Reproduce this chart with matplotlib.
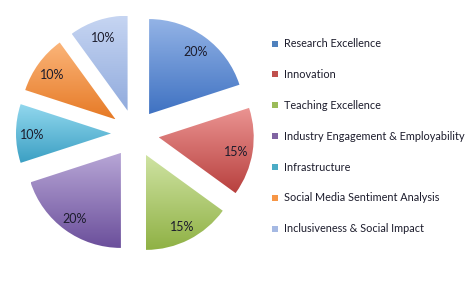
import numpy as np
import matplotlib.pyplot as plt
from matplotlib.colors import LinearSegmentedColormap
from matplotlib.lines import Line2D

plt.rcParams['font.family'] = ['Lato', 'DejaVu Sans']

# data
labels = ['Research Excellence', 'Innovation', 'Teaching Excellence',
          'Industry Engagement & Employability', 'Infrastructure',
          'Social Media Sentiment Analysis', 'Inclusiveness & Social Impact']
shares = [20, 15, 15, 20, 10, 10, 10]

# gradient colours (top light -> bottom dark) per slice
tops = ['#93b3e6', '#eb9593', '#cfe3a3', '#b7a6d6', '#92d8ee', '#fbb57a', '#c6d5f2']
bottoms = ['#3f72c2', '#b8403e', '#8fb144', '#6b4f9b', '#3b9fc3', '#e67a26', '#91abdd']
legend_cols = ['#4f81bd', '#c0504d', '#9bbb59', '#8064a2', '#4bacc6', '#f79646', '#a5b9e3']

fig = plt.figure(figsize=(4.74, 2.89), dpi=100)
ax = fig.add_axes([0, 0, 1, 1])

# explode is in data units here (radius 95 px)
wedges, texts, autotexts = ax.pie(
    shares, startangle=90, counterclock=False, radius=95,
    center=(135, 289 - 133.5), explode=[24] * len(shares),
    autopct='%d%%', pctdistance=0.83, frame=True,
    wedgeprops=dict(linewidth=0, facecolor='none'),
    textprops=dict(fontsize=9, color='#1c1c2c'))
ax.set_xlim(0, 474)
ax.set_ylim(0, 289)
ax.set_aspect('equal')
ax.axis('off')

grad = np.linspace(0, 1, 256).reshape(-1, 1)
for w, c1, c2 in zip(wedges, tops, bottoms):
    bb = w.get_path().get_extents()
    cmap = LinearSegmentedColormap.from_list('g', [c2, c1])
    im = ax.imshow(grad, cmap=cmap, origin='lower', aspect='auto',
                   extent=[bb.x0, bb.x1, bb.y0, bb.y1], zorder=1)
    im.set_clip_path(w)
for t in autotexts:
    t.set_zorder(3)
    x, y = t.get_position()
    t.set_position((x, y - 2))
ax.set_xlim(0, 474)
ax.set_ylim(0, 289)

handles = [Line2D([], [], marker='s', linestyle='', markersize=4.5,
                  markerfacecolor=c, markeredgewidth=0) for c in legend_cols]
fig.legend(handles, labels, loc='upper left', bbox_to_anchor=(0.56, 0.886),
           frameon=False, fontsize=7.8, labelspacing=1.83, handlelength=0.8,
           handletextpad=0.45, borderpad=0, labelcolor='#1c1c2c')

fig.savefig('out.png', dpi=100)
